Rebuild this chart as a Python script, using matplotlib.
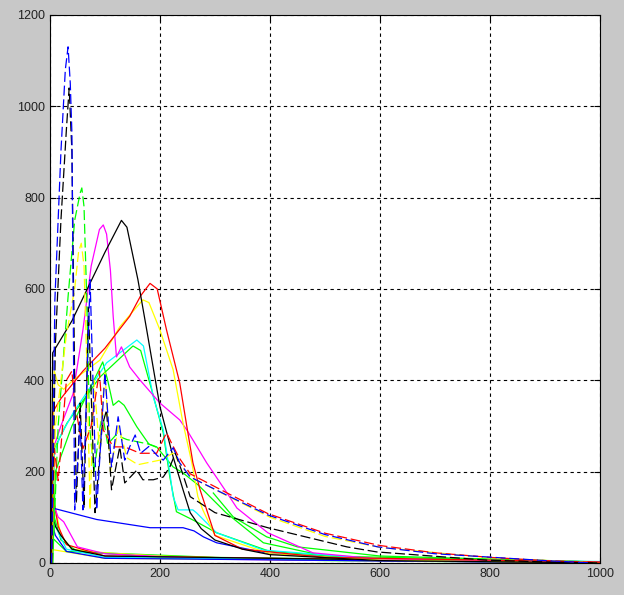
import matplotlib
matplotlib.use('Agg')
import matplotlib.pyplot as plt

# ---- curves (x, y) ----
blue_dash_x = [3, 9, 20, 28, 33, 37, 40, 45, 55, 60, 73, 85, 100, 112, 124, 136, 145, 155, 165, 180, 195, 206, 224, 236, 255, 327, 396, 500, 596, 700, 794, 900, 982]
blue_dash_y = [0, 575, 900, 1080, 1130, 1050, 940, 116, 313, 116, 620, 116, 416, 210, 320, 225, 254, 280, 240, 255, 235, 225, 252, 219, 188, 145, 105, 62, 35, 20, 13, 5, 0]

black_dash_x = [3, 10, 20, 30, 35, 40, 45, 48, 55, 62, 70, 82, 95, 103, 112, 127, 136, 158, 169, 188, 206, 218, 228, 240, 255, 300, 396, 540, 594, 794, 900, 1000]
black_dash_y = [0, 480, 750, 950, 1040, 900, 400, 130, 350, 120, 560, 110, 300, 335, 160, 254, 175, 203, 182, 182, 188, 210, 240, 200, 145, 110, 77, 35, 24, 6, 2, 0]

green_dash_x = [5, 15, 33, 45, 55, 58, 62, 67, 72, 80, 95, 105, 120, 140, 180, 200]
green_dash_y = [0, 300, 583, 750, 810, 821, 780, 576, 300, 200, 330, 260, 280, 270, 260, 250]

yellow_dash_x = [3, 10, 30, 45, 52, 57, 62, 68, 73, 80, 90, 100, 110, 125, 140, 160, 180, 200, 224, 240, 260, 330, 400, 500, 600, 800, 1000]
yellow_dash_y = [0, 300, 500, 600, 680, 700, 650, 400, 116, 400, 250, 420, 200, 300, 230, 215, 220, 225, 240, 210, 185, 142, 100, 58, 34, 11, 0]

red_dash_x = [3, 8, 15, 30, 40, 45, 60, 75, 90, 97, 115, 136, 164, 194, 212, 222, 235, 255, 327, 396, 500, 600, 700, 800, 900, 1000]
red_dash_y = [0, 250, 180, 400, 420, 350, 250, 300, 420, 291, 254, 254, 240, 240, 285, 260, 230, 195, 150, 108, 65, 38, 22, 12, 5, 0]

black_x = [2, 5, 40, 100, 130, 140, 160, 176, 200, 224, 242, 255, 275, 300, 350, 400, 600, 1000]
black_y = [0, 460, 530, 680, 750, 735, 620, 510, 342, 232, 160, 110, 75, 50, 30, 18, 5, 0]

red_x = [3, 5, 20, 60, 100, 145, 165, 182, 195, 212, 236, 249, 260, 273, 285, 300, 350, 500, 1000]
red_y = [0, 330, 360, 420, 470, 540, 585, 612, 600, 510, 394, 298, 219, 160, 116, 60, 30, 12, 2]

yellow_x = [3, 8, 15, 25, 42, 91, 127, 169, 180, 200, 224, 242, 258, 269, 278, 300, 400, 600, 1000]
yellow_y = [0, 420, 390, 380, 400, 444, 517, 576, 570, 510, 423, 306, 219, 145, 116, 60, 20, 6, 0]

cyan_x = [2, 8, 18, 42, 103, 158, 170, 188, 206, 218, 224, 233, 260, 267, 303, 388, 600, 1000]
cyan_y = [100, 240, 276, 328, 438, 488, 475, 363, 291, 197, 145, 116, 116, 109, 66, 28, 8, 3]

green_x = [3, 8, 31, 91, 151, 165, 185, 206, 218, 230, 260, 303, 400, 600, 1000]
green_y = [0, 250, 306, 407, 475, 465, 379, 285, 188, 112, 94, 66, 25, 8, 1]

green2_x = [5, 10, 40, 96, 105, 115, 125, 135, 158, 180, 194, 224, 242, 270, 320, 388, 500, 1000]
green2_y = [0, 200, 300, 440, 400, 345, 355, 345, 298, 260, 254, 210, 197, 170, 110, 44, 15, 2]

green3_x = [297, 333, 394, 450, 600, 1000]
green3_y = [153, 101, 57, 35, 15, 2]

magenta_x = [2, 6, 20, 42, 60, 75, 90, 97, 103, 110, 115, 121, 130, 145, 164, 200, 236, 249, 285, 322, 340, 396, 478, 600, 1000]
magenta_y = [0, 250, 300, 370, 510, 650, 730, 740, 720, 640, 540, 451, 473, 429, 400, 350, 313, 291, 219, 153, 120, 66, 22, 8, 1]

blue_x = [0, 5, 85, 182, 242, 262, 279, 303, 400, 600, 1000]
blue_y = [0, 120, 95, 77, 77, 70, 57, 44, 20, 8, 2]

# short-lived curves hugging the bottom
low_yellow_x = [0, 10, 20, 40, 100, 200, 400, 1000]
low_yellow_y = [190, 120, 60, 30, 22, 15, 8, 0]
low_green_x = [0, 8, 20, 50, 200, 500, 1000]
low_green_y = [170, 100, 50, 25, 12, 5, 0]
low_red_x = [0, 5, 15, 30, 100, 1000]
low_red_y = [200, 150, 80, 40, 15, 0]
low_magenta_x = [0, 15, 25, 50, 100, 300, 1000]
low_magenta_y = [150, 100, 90, 35, 20, 8, 0]
low_cyan_x = [0, 10, 30, 100, 1000]
low_cyan_y = [120, 80, 30, 12, 0]
low_blue_x = [0, 10, 30, 100, 1000]
low_blue_y = [100, 60, 25, 10, 0]
low_black_x = [0, 10, 20, 40, 100, 1000]
low_black_y = [130, 80, 60, 30, 15, 0]
low_yellow2_x = [0, 100, 1000]
low_yellow2_y = [30, 10, 2]
low_green2_x = [0, 30, 300, 700, 1000]
low_green2_y = [60, 25, 12, 6, 0]

x_ticks = [0, 200, 400, 600, 800, 1000]
y_ticks = [0, 200, 400, 600, 800, 1000, 1200]

fig = plt.figure(figsize=(6.24, 5.95), dpi=100)
fig.patch.set_facecolor('#c8c8c8')
ax = fig.add_axes([0.080, 0.054, 0.8815, 0.921])
ax.set_facecolor('white')

dash = (0, (8, 3))
curves = [
    (low_yellow2_x, low_yellow2_y, 'y', '-'),
    (low_green2_x, low_green2_y, 'g', '-'),
    (low_yellow_x, low_yellow_y, 'y', '-'),
    (low_green_x, low_green_y, 'g', '-'),
    (low_red_x, low_red_y, 'r', '-'),
    (low_magenta_x, low_magenta_y, 'm', '-'),
    (low_cyan_x, low_cyan_y, 'c', '-'),
    (low_blue_x, low_blue_y, 'b', '-'),
    (low_black_x, low_black_y, 'k', '-'),
    (blue_x, blue_y, 'b', '-'),
    (green3_x, green3_y, 'g', '-'),
    (green2_x, green2_y, 'g', '-'),
    (green_x, green_y, 'g', '-'),
    (cyan_x, cyan_y, 'c', '-'),
    (magenta_x, magenta_y, 'm', '-'),
    (yellow_x, yellow_y, 'y', '-'),
    (red_x, red_y, 'r', '-'),
    (black_x, black_y, 'k', '-'),
    (green_dash_x, green_dash_y, 'g', dash),
    (yellow_dash_x, yellow_dash_y, 'y', dash),
    (red_dash_x, red_dash_y, 'r', dash),
    (black_dash_x, black_dash_y, 'k', dash),
    (blue_dash_x, blue_dash_y, 'b', dash),
]
colors = {'b': '#0000ff', 'g': '#00ff00', 'r': '#ff0000', 'c': '#00ffff',
          'm': '#ff00ff', 'y': '#ffff00', 'k': '#000000'}
for xs, ys, c, ls in curves:
    ax.plot(xs, ys, color=colors[c], linestyle=ls, lw=0.9)

ax.set_xlim(0, 1000)
ax.set_ylim(0, 1200)
ax.set_xticks(x_ticks)
ax.set_yticks(y_ticks)
ax.grid(True, color='black', linestyle=(0, (3, 3)), lw=0.8)
ax.tick_params(direction='in', length=4, labelsize=9, colors='black',
               top=True, right=True)
for lab in ax.get_xticklabels() + ax.get_yticklabels():
    lab.set_family('Liberation Sans')
    lab.set_color('#222222')
for s in ax.spines.values():
    s.set_color('black')
    s.set_linewidth(0.8)

fig.savefig('out.png', dpi=100, facecolor=fig.get_facecolor())
